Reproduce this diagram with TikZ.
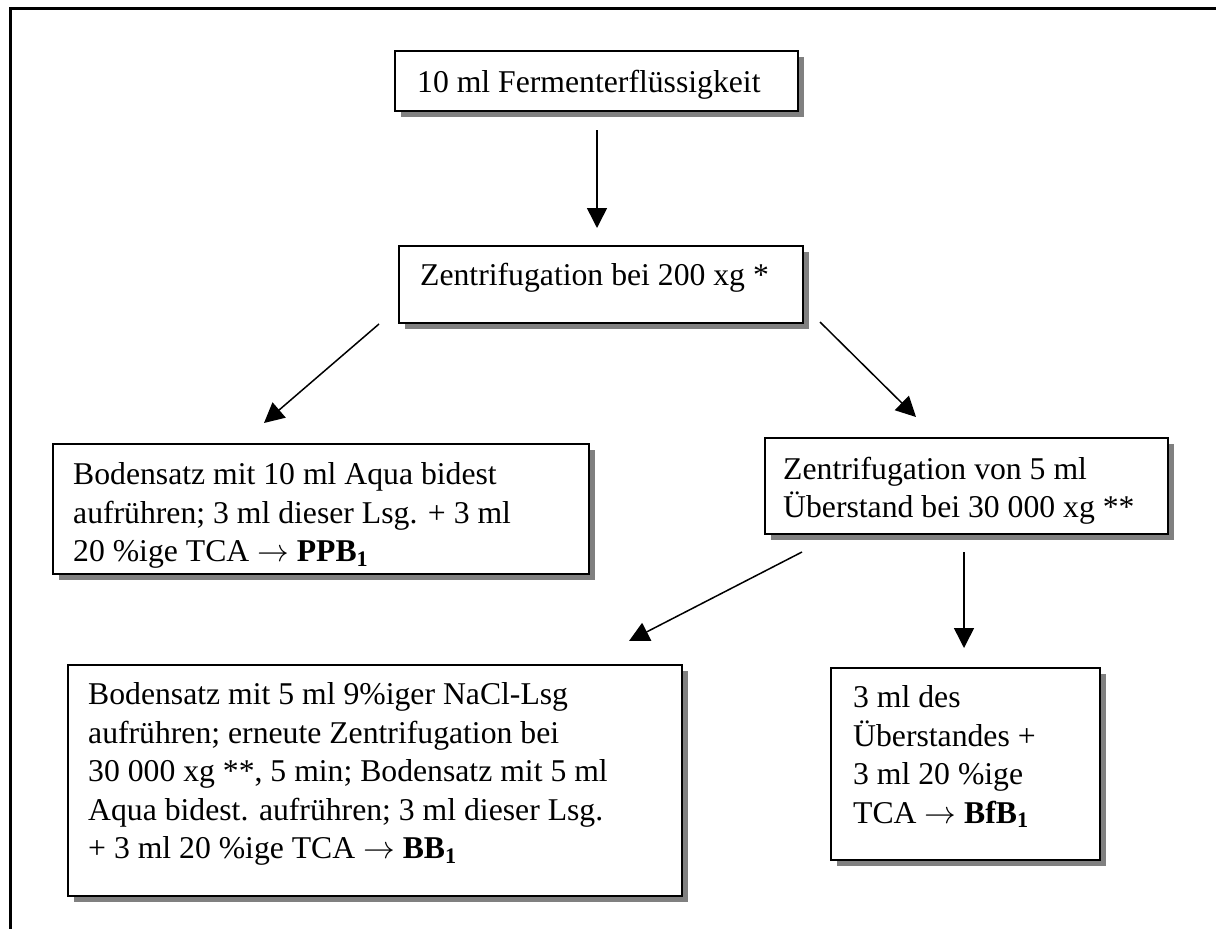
\RequirePackage{fix-cm}
\documentclass[tikz,border=0pt]{standalone}
\usepackage{fontspec}
\setmainfont{Liberation Serif}
\usetikzlibrary{shadows,arrows.meta}

\tikzset{
  stepbox/.style={rectangle, draw=black, line width=1.6pt, fill=white,
    inner sep=0pt, anchor=north west,
    drop shadow={shadow xshift=6.5pt, shadow yshift=-6.5pt, fill=black!50, opacity=1}},
  steptext/.style={anchor=north west, align=left, inner sep=0pt,
    font=\fontsize{31.7}{38.5}\selectfont},
  flow/.style={line width=1.5pt, -{Triangle[length=20pt,width=20pt]}},
  frameline/.style={line width=3pt},
}
% reaction arrow inside the box texts
\newcommand{\yields}{$\rightarrow$}

\begin{document}
\begin{tikzpicture}[x=1pt, y=-1pt]
  \useasboundingbox (0,0) rectangle (1216,929);

  % page frame (only top and left edges are visible)
  \draw[frameline] (10.5,929) -- (10.5,8) -- (1216,8);

  % boxes
  \node[stepbox, minimum width=403pt, minimum height=60pt]  (b1) at (394,50)  {};
  \node[stepbox, minimum width=404pt, minimum height=77pt]  (b2) at (398,245) {};
  \node[stepbox, minimum width=536pt, minimum height=130pt] (b3) at (52,443)  {};
  \node[stepbox, minimum width=403pt, minimum height=96pt]  (b4) at (764,437) {};
  \node[stepbox, minimum width=614pt, minimum height=231pt] (b5) at (67,664)  {};
  \node[stepbox, minimum width=269pt, minimum height=192pt] (b6) at (830,667) {};

  % texts (top of first line = baseline - ascender)
  \node[steptext] (t1) at (417,69.5)  {10 ml Fermenterflüssigkeit};
  \node[steptext] (t2) at (420,262.5) {Zentrifugation bei 200 xg *};
  \node[steptext] (t3) at (73,462.5)  {Bodensatz mit 10 ml Aqua bidest\\
    aufrühren; 3 ml dieser Lsg. + 3 ml\\
    20 \%ige TCA \yields{} \textbf{PPB\textsubscript{1}}};
  \node[steptext] (t4) at (783,456.5) {Zentrifugation von 5 ml\\
    Überstand bei 30 000 xg **};
  \node[steptext] (t5) at (88,682.5)  {Bodensatz mit 5 ml 9\%iger NaCl-Lsg\\
    aufrühren; erneute Zentrifugation bei\\
    30 000 xg **, 5 min; Bodensatz mit 5 ml\\
    Aqua bidest. aufrühren; 3 ml dieser Lsg.\\
    + 3 ml 20 \%ige TCA \yields{} \textbf{BB\textsubscript{1}}};
  \node[steptext] (t6) at (853,685.5) {3 ml des\\
    Überstandes +\\
    3 ml 20 \%ige\\
    TCA \yields{} \textbf{BfB\textsubscript{1}}};

  % connector end points
  \coordinate (a1s) at (597,130);  \coordinate (a1e) at (597,228);
  \coordinate (a2s) at (379,324);  \coordinate (a2e) at (264,423);
  \coordinate (a3s) at (820,322);  \coordinate (a3e) at (916,417);
  \coordinate (a4s) at (802,552);  \coordinate (a4e) at (629,641);
  \coordinate (a5s) at (964,552);  \coordinate (a5e) at (964,648);

  \draw[flow] (a1s) -- (a1e);
  \draw[flow] (a2s) -- (a2e);
  \draw[flow] (a3s) -- (a3e);
  \draw[flow] (a4s) -- (a4e);
  \draw[flow] (a5s) -- (a5e);
\end{tikzpicture}
\end{document}
